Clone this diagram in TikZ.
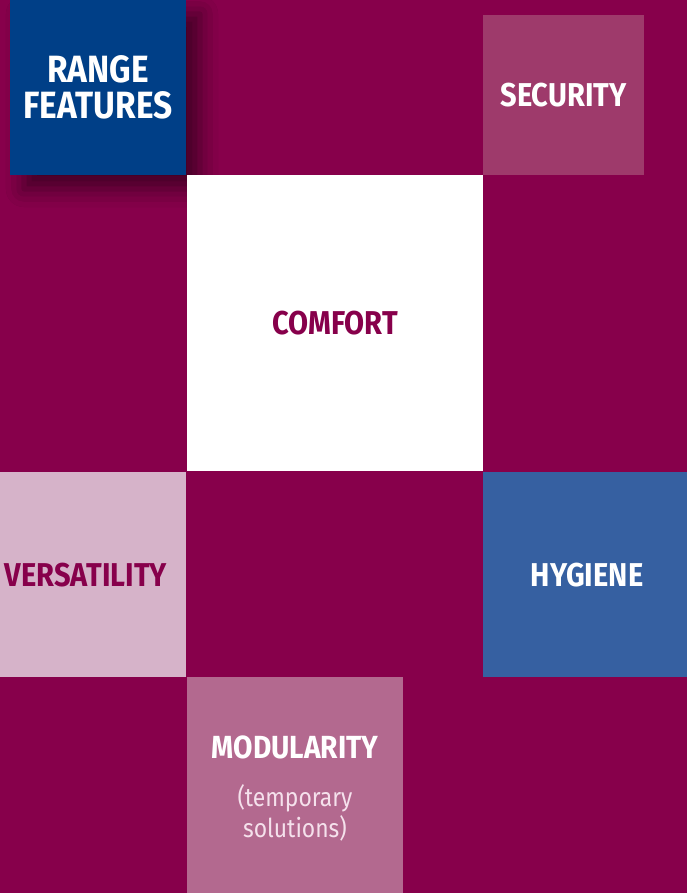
\documentclass[tikz,border=0pt]{standalone}
\usepackage{fontspec}
\setmainfont{Fira Sans}[FakeStretch=0.88]
\usepackage{xcolor}
\definecolor{BGcolor}{HTML}{87004B}
\definecolor{RFcolor}{HTML}{003F87}
\definecolor{SECcolor}{HTML}{9E3A6B}
\definecolor{VERcolor}{HTML}{D6B3C9}
\definecolor{HYGcolor}{HTML}{3660A1}
\definecolor{MODcolor}{HTML}{B3698F}
\definecolor{SUBcolor}{HTML}{F5E1EC}
\usetikzlibrary{shadows.blur}
\newcommand{\subline}[1]{{\mdseries\fontsize{26pt}{31pt}\selectfont\color{SUBcolor}#1}}

\begin{document}
\begin{tikzpicture}[x=1pt, y=-1pt]
    \tikzset{%
        tile/.style={anchor=north west, inner sep=0pt, outer sep=0pt, align=center,
                font=\bfseries\fontsize{33pt}{36pt}\selectfont},
        tilelabel/.style={inner sep=0pt, align=center,
                font=\bfseries\fontsize{33pt}{36pt}\selectfont},
    }

    % background
    \fill [BGcolor] (0, 0) rectangle (687, 893);
    \useasboundingbox (0, 0) rectangle (687, 893);

    % tiles
    \node (range) [tile, fill=RFcolor, text=white, minimum width=176pt, minimum height=175pt,
        font=\bfseries\fontsize{38pt}{36pt}\selectfont,
        blur shadow={shadow xshift=14pt, shadow yshift=-14pt, shadow blur radius=18pt, shadow opacity=50}]
        at (10, 0) {RANGE\\FEATURES};
    \node (security) [tile, fill=SECcolor, text=white, minimum width=161pt, minimum height=160pt]
        at (483, 15) {SECURITY};
    \node (comfort) [tile, fill=white, text=BGcolor, minimum width=296pt, minimum height=296pt]
        at (187, 175) {COMFORT};
    \node (versatility) [tile, fill=VERcolor, minimum width=186pt, minimum height=205pt]
        at (0, 472) {};
    \node (versatility text) [tilelabel, text=BGcolor] at (86, 575) {VERSATILITY};
    \node (hygiene) [tile, fill=HYGcolor, minimum width=204pt, minimum height=205pt]
        at (483, 472) {};
    \node (hygiene text) [tilelabel, text=white] at (587, 575) {HYGIENE};
    \node (modularity) [tile, fill=MODcolor, minimum width=216pt, minimum height=216pt]
        at (187, 677) {};
    \node (modularity text) [tilelabel, text=white, font=\bfseries\fontsize{32pt}{36pt}\selectfont]
        at (295, 789) {MODULARITY\\[12pt]\subline{(temporary}\\[-5pt]\subline{solutions)}};

\end{tikzpicture}
\end{document}
